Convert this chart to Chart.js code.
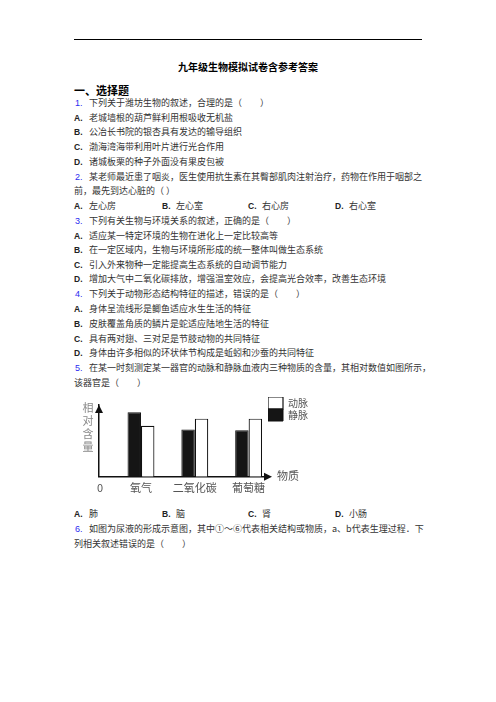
<!DOCTYPE html>
<html>
<head>
<meta charset="utf-8">
<script src="https://cdn.jsdelivr.net/npm/chart.js@4.4.1/dist/chart.umd.min.js"></script>
<style>
  body {
    margin: 0;
    width: 496px;
    height: 702px;
    background: #fff;
    position: relative;
    overflow: hidden;
    font-family: "Noto Sans CJK SC", sans-serif;
    color: #333;
  }
  .rule { position: absolute; left: 74px; top: 39px; width: 348px; height: 1.3px; background: #000; }
  .title { position: absolute; left: 0; width: 496px; text-align: center; top: 59px; font-size: 10px; line-height: 16px; font-weight: bold; color: #000; }
  .sec { position: absolute; left: 74px; top: 82px; font-size: 11px; line-height: 16px; font-weight: bold; color: #000; }
  .ln { position: absolute; left: 0; width: 496px; height: 14px; font-size: 9px; line-height: 14px; white-space: nowrap; }
  .ln span { position: absolute; top: 0; }
  .no { color: #2b2bf0; font-family: "Liberation Sans", sans-serif; font-size: 9px; }
  .op { color: #222; font-family: "Liberation Sans", sans-serif; font-weight: bold; font-size: 8.5px; }
  #wrap { position: absolute; left: 79px; top: 389px; width: 239px; height: 112px; }
</style>
</head>
<body>
<div class="rule"></div>
<div class="title">九年级生物模拟试卷含参考答案</div>
<div class="sec">一、选择题</div>

<div class="ln" style="top:96px"><span class="no" style="left:75px">1.</span><span style="left:89px">下列关于潍坊生物的叙述，合理的是（　　）</span></div>
<div class="ln" style="top:111px"><span class="op" style="left:74px">A.</span><span style="left:89px">老城墙根的葫芦鲜利用根吸收无机盐</span></div>
<div class="ln" style="top:125px"><span class="op" style="left:74px">B.</span><span style="left:89px">公冶长书院的银杏具有发达的输导组织</span></div>
<div class="ln" style="top:140px"><span class="op" style="left:74px">C.</span><span style="left:89px">渤海湾海带利用叶片进行光合作用</span></div>
<div class="ln" style="top:155px"><span class="op" style="left:74px">D.</span><span style="left:89px">诸城板栗的种子外面没有果皮包被</span></div>
<div class="ln" style="top:170px"><span class="no" style="left:75px">2.</span><span style="left:89px">某老师最近患了咽炎，医生使用抗生素在其臀部肌肉注射治疗，药物在作用于咽部之</span></div>
<div class="ln" style="top:184px"><span style="left:74px">前，最先到达心脏的（ ）</span></div>
<div class="ln" style="top:199px">
  <span class="op" style="left:74px">A.</span><span style="left:89px">左心房</span>
  <span class="op" style="left:162px">B.</span><span style="left:176px">左心室</span>
  <span class="op" style="left:248px">C.</span><span style="left:262px">右心房</span>
  <span class="op" style="left:335px">D.</span><span style="left:349px">右心室</span>
</div>
<div class="ln" style="top:214px"><span class="no" style="left:75px">3.</span><span style="left:89px">下列有关生物与环境关系的叙述，正确的是（　　）</span></div>
<div class="ln" style="top:229px"><span class="op" style="left:74px">A.</span><span style="left:89px">适应某一特定环境的生物在进化上一定比较高等</span></div>
<div class="ln" style="top:243px"><span class="op" style="left:74px">B.</span><span style="left:89px">在一定区域内，生物与环境所形成的统一整体叫做生态系统</span></div>
<div class="ln" style="top:258px"><span class="op" style="left:74px">C.</span><span style="left:89px">引入外来物种一定能提高生态系统的自动调节能力</span></div>
<div class="ln" style="top:272px"><span class="op" style="left:74px">D.</span><span style="left:89px">增加大气中二氧化碳排放，增强温室效应，会提高光合效率，改善生态环境</span></div>
<div class="ln" style="top:287px"><span class="no" style="left:75px">4.</span><span style="left:89px">下列关于动物形态结构特征的描述，错误的是（　　）</span></div>
<div class="ln" style="top:302px"><span class="op" style="left:74px">A.</span><span style="left:89px">身体呈流线形是鲫鱼适应水生生活的特征</span></div>
<div class="ln" style="top:317px"><span class="op" style="left:74px">B.</span><span style="left:89px">皮肤覆盖角质的鳞片是蛇适应陆地生活的特征</span></div>
<div class="ln" style="top:332px"><span class="op" style="left:74px">C.</span><span style="left:89px">具有两对翅、三对足是节肢动物的共同特征</span></div>
<div class="ln" style="top:346px"><span class="op" style="left:74px">D.</span><span style="left:89px">身体由许多相似的环状体节构成是蚯蚓和沙蚕的共同特征</span></div>
<div class="ln" style="top:361px"><span class="no" style="left:75px">5.</span><span style="left:89px">在某一时刻测定某一器官的动脉和静脉血液内三种物质的含量，其相对数值如图所示，</span></div>
<div class="ln" style="top:376px"><span style="left:74px">该器官是（　　）</span></div>

<div id="wrap"><canvas id="myChart" width="239" height="112"></canvas></div>

<div class="ln" style="top:507px">
  <span class="op" style="left:74px">A.</span><span style="left:89px">肺</span>
  <span class="op" style="left:162px">B.</span><span style="left:176px">脑</span>
  <span class="op" style="left:248px">C.</span><span style="left:262px">肾</span>
  <span class="op" style="left:335px">D.</span><span style="left:349px">小肠</span>
</div>
<div class="ln" style="top:522px"><span class="no" style="left:75px">6.</span><span style="left:89px">如图为尿液的形成示意图，其中①～⑥代表相关结构或物质，a、b代表生理过程．下</span></div>
<div class="ln" style="top:537px"><span style="left:74px">列相关叙述错误的是（　　）</span></div>

<script>
// 图中数据（相对含量，纵轴顶端记为100）
const categories = ["氧气", "二氧化碳", "葡萄糖"];
const veinValues = [90, 66, 65];    // 静脉（黑色柱）
const arteryValues = [71, 81, 81];  // 动脉（白色柱）
const veinName = "静脉";
const arteryName = "动脉";
const yAxisTitle = "相对含量";
const xAxisTitle = "物质";
const originLabel = "0";

const chartFont = "'Noto Sans CJK SC', sans-serif";

// 坐标轴箭头、竖排的纵轴名称、横轴名称和原点
const axisDecor = {
  id: "axisDecor",
  afterLayout(chart) {
    // 图例比纵轴箭头略高一点
    chart.legend.top -= 8;
    chart.legend.bottom -= 8;
  },
  afterDraw(chart) {
    const { ctx, chartArea: a } = chart;
    ctx.save();
    ctx.fillStyle = "#111";

    ctx.beginPath();
    ctx.moveTo(a.left, a.top);
    ctx.lineTo(a.left - 4, a.top + 8);
    ctx.lineTo(a.left + 4, a.top + 8);
    ctx.closePath();
    ctx.fill();

    ctx.beginPath();
    ctx.moveTo(a.right + 4, a.bottom);
    ctx.lineTo(a.right - 4, a.bottom - 4);
    ctx.lineTo(a.right - 4, a.bottom + 4);
    ctx.closePath();
    ctx.fill();

    ctx.font = "11px " + chartFont;
    ctx.textAlign = "center";
    ctx.textBaseline = "middle";
    ctx.fillStyle = "#888";
    [...yAxisTitle].forEach((ch, i) => {
      ctx.fillText(ch, a.left - 11, a.top + 3 + i * 13);
    });

    ctx.fillStyle = "#555";
    ctx.textAlign = "left";
    ctx.fillText(xAxisTitle, a.right + 9, a.bottom - 1);

    ctx.textAlign = "center";
    ctx.fillText(originLabel, a.left + 1, a.bottom + 11);
    ctx.restore();
  },
};

const config = {
  type: "bar",
  data: {
    datasets: [
      {
        label: veinName,
        data: veinValues.map((v, i) => ({ x: i + 1, y: v })),
        backgroundColor: "#151515",
        borderColor: "#111",
        borderWidth: 1,
      },
      {
        label: arteryName,
        data: arteryValues.map((v, i) => ({ x: i + 1, y: v })),
        backgroundColor: "#fff",
        borderColor: "#111",
        borderWidth: 1.2,
      },
    ],
  },
  options: {
    responsive: false,
    animation: false,
    categoryPercentage: 0.5,
    barPercentage: 1,
    layout: { padding: { left: 20, top: 16, right: 0, bottom: 3 } },
    plugins: {
      legend: {
        position: "right",
        align: "start",
        reverse: true,
        labels: {
          boxWidth: 15,
          boxHeight: 12,
          padding: 0,
          color: "#555",
          font: { size: 10, family: chartFont },
        },
      },
      tooltip: { enabled: false },
    },
    scales: {
      x: {
        type: "linear",
        bounds: "data",
        offset: false,
        min: 0.22,
        max: 3.36,
        afterBuildTicks: (scale) => {
          scale.ticks = categories.map((c, i) => ({ value: i + 1 }));
        },
        ticks: {
          callback: (v) => categories[v - 1] ?? "",
          autoSkip: false,
          maxRotation: 0,
          padding: 4,
          color: "#555",
          font: { size: 11, family: chartFont },
        },
        grid: { display: false, drawTicks: false, offset: false },
        border: { color: "#111", width: 1.5 },
      },
      y: {
        min: 0,
        max: 100,
        ticks: { display: false },
        grid: { display: false, drawTicks: false },
        border: { color: "#111", width: 1.5 },
      },
    },
  },
  plugins: [axisDecor],
};

const ctx = document.getElementById("myChart").getContext("2d");
new Chart(ctx, config);
</script>
</body>
</html>
